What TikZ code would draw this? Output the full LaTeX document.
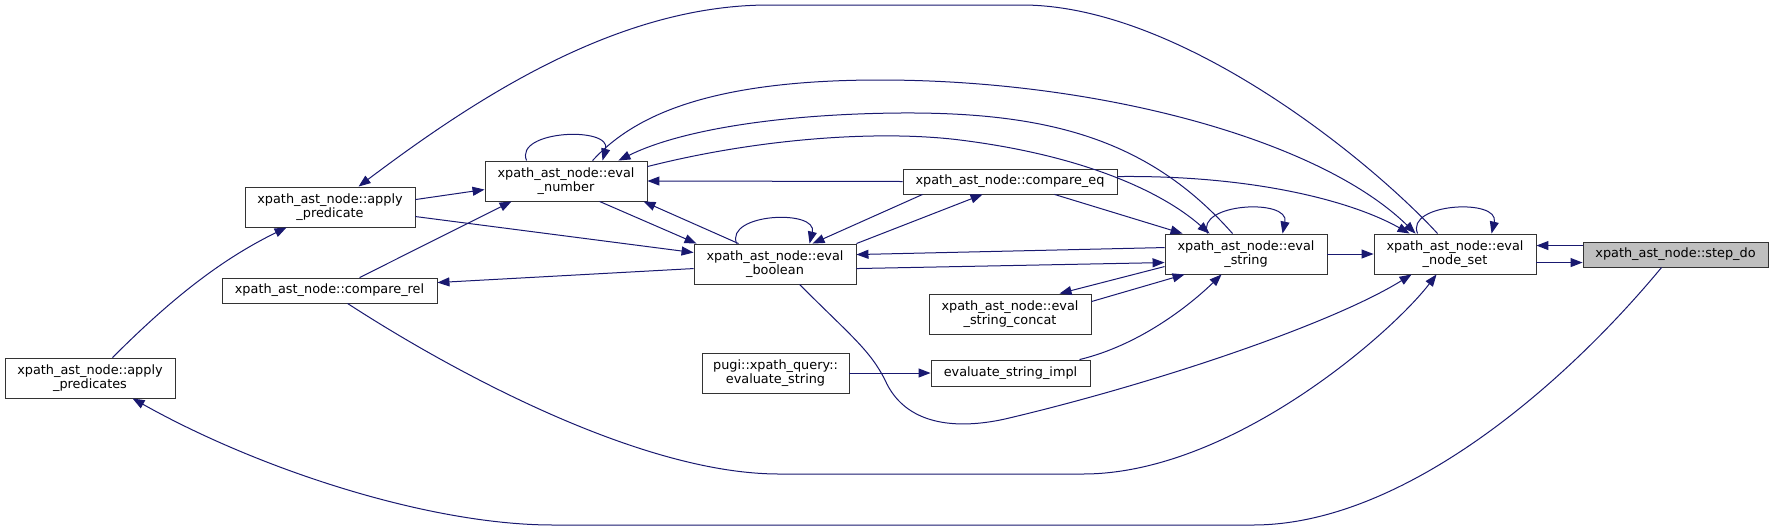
\documentclass[tikz,border=0pt]{standalone}
\usepackage{fontspec}
\setmainfont{DejaVu Sans}
\usetikzlibrary{arrows.meta,calc}
\definecolor{edgeblue}{HTML}{191970}
\definecolor{nodegray}{HTML}{BFBFBF}
\newcommand{\nfont}{\fontsize{12.85pt}{13.4pt}\selectfont}
\begin{document}
\begin{tikzpicture}[x=1pt,y=-1pt,
  fbox/.style={draw=black!80, line width=0.9pt, fill=white, inner sep=0pt, align=center, font=\nfont},
  e/.style={draw=edgeblue, line width=1pt, -{Triangle[length=12pt,width=9pt]}}]
\useasboundingbox (0,0) rectangle (1773,531);
\fill[white] (0,0) rectangle (1773,531);

% nodes
\node[fbox,minimum width=170pt,minimum height=40pt] (AP) at (330,207) {xpath\_ast\_node::apply\\\_predicate};
\node[fbox,minimum width=215pt,minimum height=25pt] (CR) at (329.5,290.5) {xpath\_ast\_node::compare\_rel};
\node[fbox,minimum width=170pt,minimum height=40pt] (APS) at (90,378) {xpath\_ast\_node::apply\\\_predicates};
\node[fbox,minimum width=162pt,minimum height=40pt] (EN) at (566,181) {xpath\_ast\_node::eval\\\_number};
\node[fbox,minimum width=162pt,minimum height=40pt] (EB) at (775,264) {xpath\_ast\_node::eval\\\_boolean};
\node[fbox,minimum width=147pt,minimum height=40pt] (PQ) at (775.5,373) {pugi::xpath\_query::\\evaluate\_string};
\node[fbox,minimum width=214pt,minimum height=25pt] (CE) at (1010,181.5) {xpath\_ast\_node::compare\_eq};
\node[fbox,minimum width=162pt,minimum height=40pt] (ES) at (1246,254) {xpath\_ast\_node::eval\\\_string};
\node[fbox,minimum width=162pt,minimum height=40pt] (ESC) at (1010,314) {xpath\_ast\_node::eval\\\_string\_concat};
\node[fbox,minimum width=159pt,minimum height=26pt] (ESI) at (1010.5,373) {evaluate\_string\_impl};
\node[fbox,minimum width=162pt,minimum height=40pt] (ENS) at (1455,254) {xpath\_ast\_node::eval\\\_node\_set};
\node[fbox,fill=nodegray,minimum width=185pt,minimum height=25pt] (SD) at (1675.5,254.5) {xpath\_ast\_node::step\_do};

% edges
\draw[e] ($(SD.north west)+(0,4)$) -- ($(ENS.north east)+(0,12)$);
\draw[e] ($(ENS.north east)+(0,29)$) -- ($(SD.north west)+(0,21)$);
\draw[e] ($(ENS.north west)+(44,0)$) .. controls (1405,203) and (1500,198) .. ($(ENS.north west)+(118,0)$);
\draw[e] (ES.east) -- (ENS.west);
\draw[e] ($(ES.north west)+(43,0)$) .. controls (1195,203) and (1290,198) .. ($(ES.north west)+(118,0)$);
\draw[e] ($(EN.north west)+(42,0)$) .. controls (514,130) and (612,126) .. ($(EN.north west)+(118,0)$);
\draw[e] ($(EB.north west)+(43,0)$) .. controls (725,213) and (818,209) .. ($(EB.north west)+(116,0)$);

\draw[e] ($(SD.south west)+(79,0)$) .. controls (1560,390) and (1400,525) .. (1253,525) -- (553,525) .. controls (430,525) and (260,470) .. ($(APS.south west)+(128,0)$);
\draw[e] ($(CR.south west)+(126,0)$) .. controls (450,370) and (640,474) .. (779,474) -- (1083,474) .. controls (1230,474) and (1390,335) .. ($(ENS.south west)+(63,0)$);
\draw[e] ($(EB.south west)+(106,0)$) .. controls (850,335) and (870,350) .. (885,380) .. controls (905,425) and (955,430) .. (1005,419) .. controls (1150,385) and (1330,325) .. ($(ENS.south west)+(38,0)$);
\draw[e] ($(ENS.north west)+(64,0)$) .. controls (1370,160) and (1180,5) .. (1022,5) -- (769,5) .. controls (620,5) and (480,95) .. ($(AP.north west)+(114,0)$);
\draw[e] ($(EN.north west)+(108,0)$) .. controls (630,120) and (700,80) .. (880,80) .. controls (1100,80) and (1320,140) .. ($(ENS.north west)+(42,0)$);
\draw[e] ($(CE.north east)+(0,8)$) .. controls (1250,175) and (1350,200) .. ($(ENS.north west)+(36,0)$);
\draw[e] ($(EN.north east)+(0,6)$) .. controls (760,138) and (880,130) .. (960,140) .. controls (1080,155) and (1160,190) .. ($(ES.north west)+(45,0)$);
\draw[e] ($(ES.north west)+(68,0)$) .. controls (1150,140) and (1050,112) .. (900,113) .. controls (780,114) and (680,130) .. ($(EN.north east)+(-29,0)$);

\draw[e] (CE.west) -- (EN.east);
\draw[e] ($(CE.south west)+(20,0)$) -- ($(EB.north west)+(119,0)$);
\draw[e] (EB.north east) -- ($(CE.south west)+(80,0)$);
\draw[e] ($(CE.south west)+(152,0)$) -- ($(ES.north west)+(18,0)$);
\draw[e] ($(ES.north west)+(0,14)$) -- ($(EB.north east)+(0,11)$);
\draw[e] ($(EB.north east)+(0,25)$) -- ($(ES.north west)+(0,29)$);
\draw[e] ($(ES.north west)+(0,33)$) -- ($(ESC.north west)+(131,0)$);
\draw[e] ($(ESC.north east)+(0,8)$) -- ($(ES.south west)+(20,0)$);
\draw[e] ($(ESI.north west)+(149,0)$) .. controls (1140,345) and (1190,305) .. ($(ES.south west)+(57,0)$);
\draw[e] (PQ.east) -- (ESI.west);
\draw[e] ($(AP.north east)+(0,13)$) -- ($(EN.north west)+(0,29)$);
\draw[e] ($(AP.north east)+(0,30)$) -- ($(EB.north west)+(0,9)$);
\draw[e] ($(CR.north west)+(138,0)$) -- ($(EN.south west)+(27,0)$);
\draw[e] ($(EB.north west)+(0,25)$) -- ($(CR.north east)+(0,5)$);
\draw[e] ($(EN.south west)+(115,0)$) -- ($(EB.north west)+(3,0)$);
\draw[e] ($(EB.north west)+(45,0)$) -- ($(EN.south east)+(-4,0)$);
\draw[e] ($(APS.north west)+(108,0)$) .. controls (170,300) and (220,260) .. ($(AP.south west)+(42,0)$);
\end{tikzpicture}
\end{document}
